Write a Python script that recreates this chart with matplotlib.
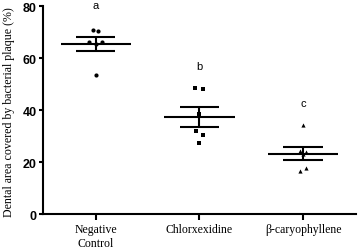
import numpy as np
import matplotlib
matplotlib.use("Agg")
import matplotlib.pyplot as plt

categories = ["Negative\nControl", "Chlorxexidine", "\u03b2-caryophyllene"]
neg_control = [70.8, 70.4, 66.2, 66.2, 65.5, 53.5]
chlorhexidine = [48.5, 48.1, 38.5, 31.9, 30.4, 27.2]
caryophyllene = [34.3, 24.2, 23.8, 23.0, 17.6, 16.7]
groups = [neg_control, chlorhexidine, caryophyllene]
markers = ["o", "s", "^"]
letters = ["a", "b", "c"]
letter_y = [80.5, 57, 42.7]
yticks = [0, 20, 40, 60, 80]

fig = plt.figure(figsize=(3.58, 2.51), dpi=100)
ax = fig.add_axes([0.120, 0.143, 0.874, 0.829])

point_offsets = [
    [-0.03, 0.02, -0.07, 0.06, 0.0, 0.0],
    [-0.04, 0.03, 0.0, -0.03, 0.03, 0.0],
    [0.0, -0.03, 0.03, 0.0, 0.03, -0.03],
]
for i, vals in enumerate(groups):
    vals = np.array(vals)
    xs = i + np.array(point_offsets[i])
    ax.scatter(xs, vals, marker=markers[i], s=9, color="black", zorder=3,
               linewidths=0, clip_on=False)
    m = vals.mean()
    sem = vals.std(ddof=1) / np.sqrt(len(vals))
    ax.hlines(m, i - 0.34, i + 0.34, color="black", lw=1.5, zorder=4)
    ax.hlines([m - sem, m + sem], i - 0.19, i + 0.19, color="black", lw=1.5, zorder=4)
    ax.vlines(i, m - sem, m + sem, color="black", lw=1.5, zorder=4)
    ax.text(i, letter_y[i], letters[i], ha="center", va="center",
            fontsize=8, family="Liberation Sans", clip_on=False)

ax.set_xlim(-0.51, 2.51)
ax.set_ylim(0, 80)
ax.set_xticks(range(3))
ax.set_xticklabels(categories, family="Liberation Serif", fontsize=8.5, linespacing=1.2)
ax.set_yticks(yticks)
ax.set_yticklabels([str(t) for t in yticks], family="Liberation Sans",
                   fontweight="bold", fontsize=9)
ax.set_ylabel("Dental area covered by bacterial plaque (%)", family="Liberation Serif",
              fontsize=8.6, labelpad=2)
ax.yaxis.set_label_coords(-0.09, 0.495)
for s in ["top", "right"]:
    ax.spines[s].set_visible(False)
for s in ["left", "bottom"]:
    ax.spines[s].set_linewidth(1.5)
ax.tick_params(axis="both", width=1.5, length=3, pad=1.5)
ax.tick_params(axis="x", length=4, pad=2.5)
fig.savefig("out.png", dpi=100)
